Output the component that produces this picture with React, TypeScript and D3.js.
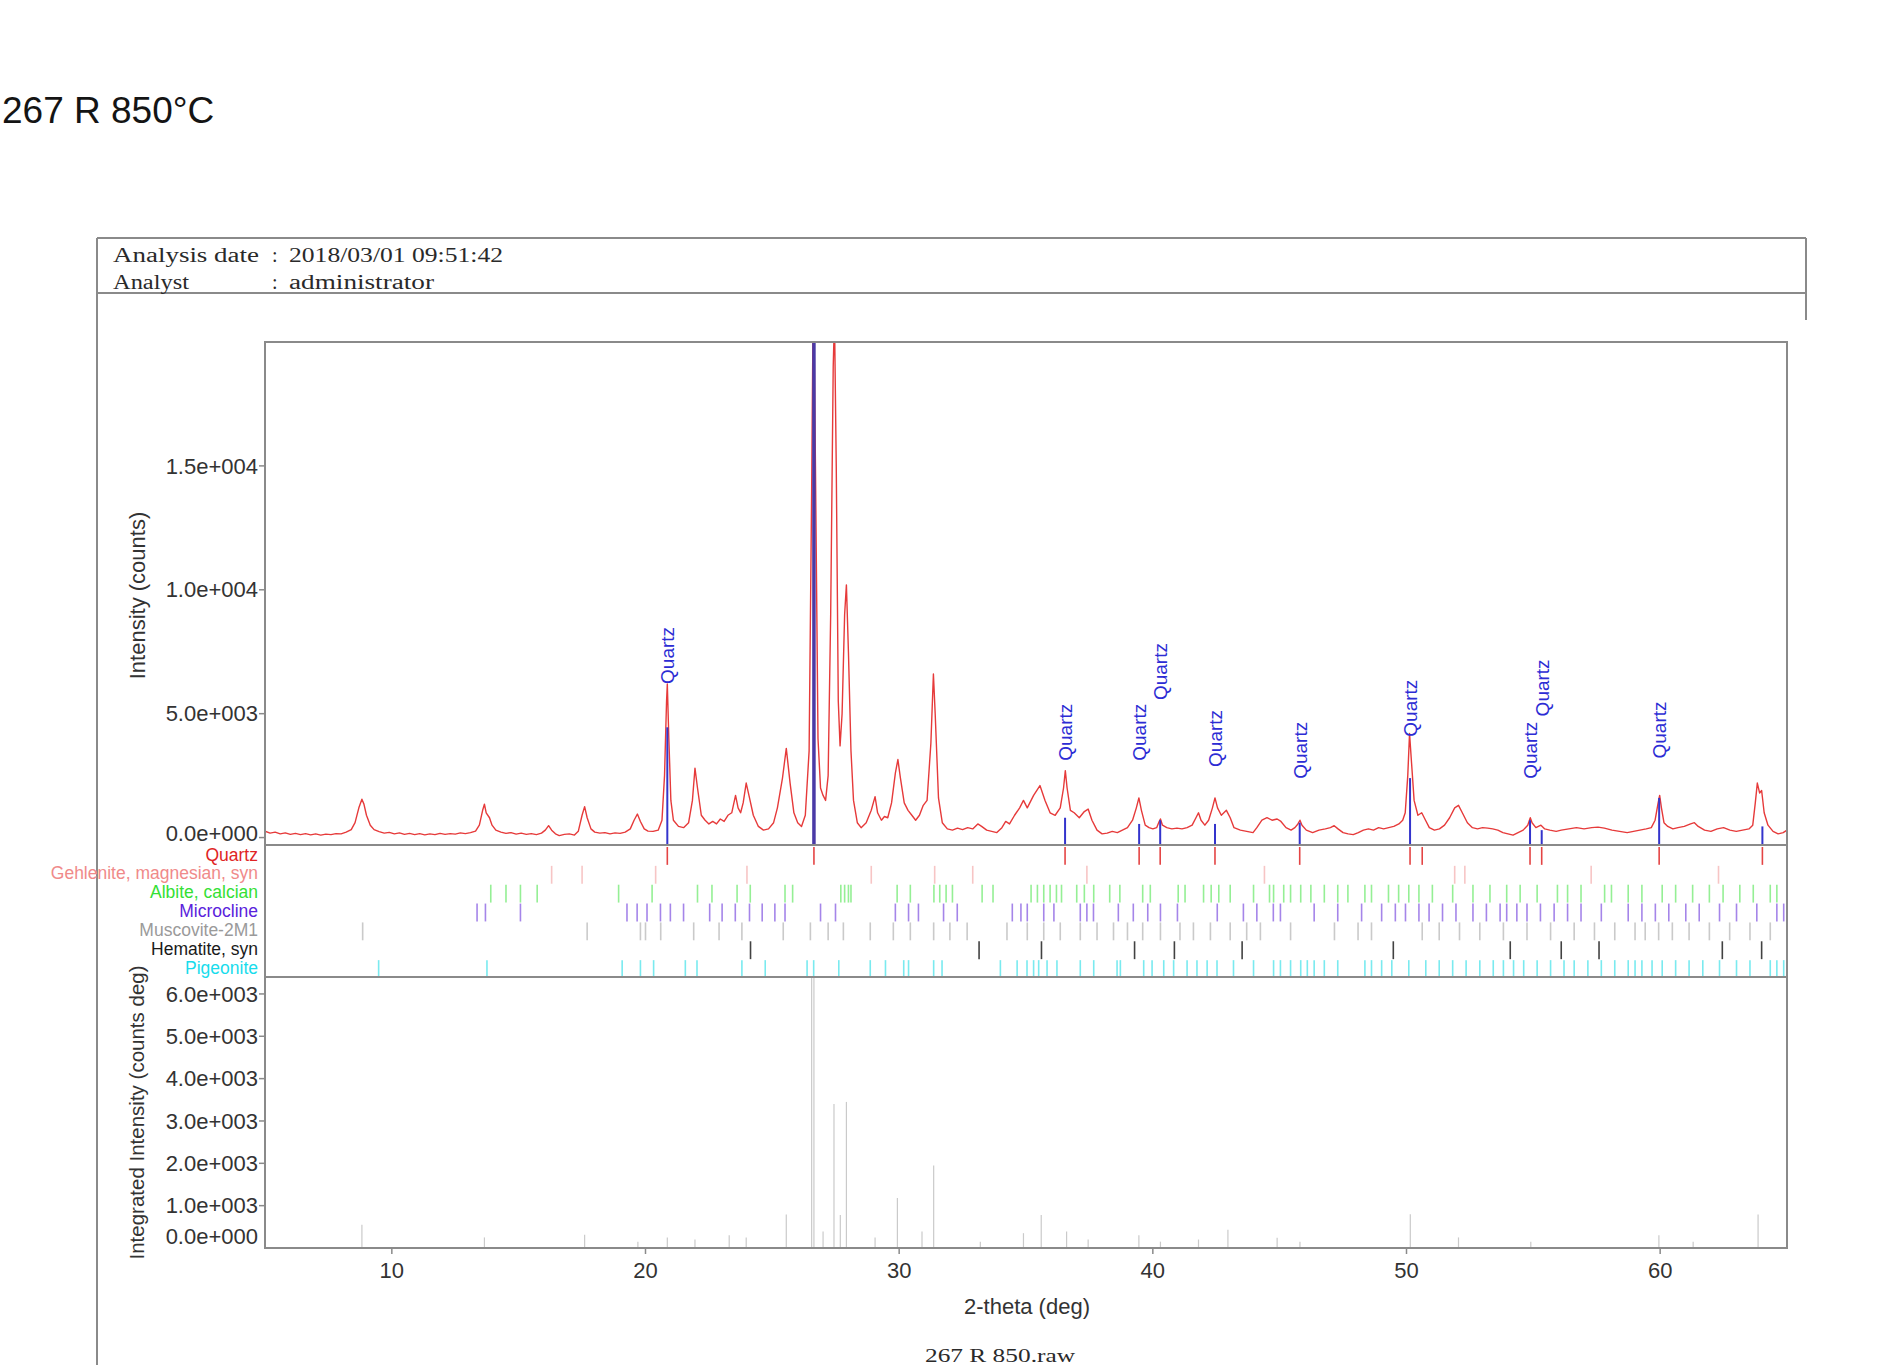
import React from "react";
import * as d3 from "d3";

const TRACE: [number, number][] = [
  [5.0, 260], [5.2, 180], [5.4, 220], [5.6, 150], [5.8, 190], [6.0, 130], [6.2, 170], [6.4, 120],
  [6.6, 160], [6.8, 110], [7.0, 150], [7.2, 100], [7.4, 140], [7.6, 120], [7.8, 160], [8.0, 150],
  [8.2, 220], [8.4, 320], [8.55, 600], [8.7, 1200], [8.82, 1550], [8.9, 1350], [9.0, 900], [9.15, 500],
  [9.3, 320], [9.5, 240], [9.7, 180], [9.9, 210], [10.1, 150], [10.3, 190], [10.5, 130], [10.7, 170],
  [10.9, 120], [11.1, 160], [11.3, 110], [11.5, 150], [11.7, 120], [11.9, 170], [12.1, 130], [12.3, 160],
  [12.5, 140], [12.7, 190], [12.9, 160], [13.1, 200], [13.3, 260], [13.45, 500], [13.58, 1100], [13.65, 1350],
  [13.72, 1000], [13.85, 800], [13.95, 500], [14.1, 300], [14.3, 220], [14.5, 170], [14.7, 200], [14.9, 140],
  [15.1, 180], [15.3, 130], [15.5, 160], [15.7, 120], [15.9, 180], [16.05, 300], [16.18, 480], [16.3, 300],
  [16.45, 150], [16.6, 80], [16.8, 130], [17.0, 150], [17.2, 100], [17.35, 250], [17.5, 900], [17.6, 1250],
  [17.7, 800], [17.85, 350], [18.0, 220], [18.2, 180], [18.4, 200], [18.6, 150], [18.8, 190], [19.0, 170],
  [19.2, 220], [19.4, 350], [19.55, 700], [19.68, 950], [19.8, 650], [19.95, 350], [20.1, 260], [20.3, 250],
  [20.5, 300], [20.65, 700], [20.75, 2500], [20.83, 5500], [20.86, 6200], [20.92, 4000], [21.0, 1500], [21.1, 700],
  [21.3, 450], [21.5, 400], [21.7, 600], [21.85, 1500], [21.95, 2800], [22.05, 2000], [22.2, 900], [22.35, 700],
  [22.5, 550], [22.65, 650], [22.8, 550], [22.95, 750], [23.1, 650], [23.25, 900], [23.4, 1000], [23.55, 1700],
  [23.65, 1200], [23.75, 1000], [23.85, 1400], [23.97, 2200], [24.1, 1600], [24.25, 900], [24.45, 450], [24.65, 300],
  [24.85, 350], [25.05, 600], [25.2, 1200], [25.4, 2400], [25.55, 3600], [25.7, 2200], [25.85, 1000], [26.0, 600],
  [26.15, 450], [26.3, 900], [26.45, 3500], [26.55, 14000], [26.62, 23000], [26.7, 15000], [26.8, 4000], [26.9, 2000],
  [27.0, 1700], [27.1, 1500], [27.2, 2500], [27.3, 9000], [27.4, 19000], [27.45, 21000], [27.52, 15000], [27.6, 5500],
  [27.67, 3700], [27.75, 5000], [27.85, 9000], [27.92, 10200], [28.0, 7500], [28.1, 3500], [28.2, 1500], [28.35, 600],
  [28.5, 400], [28.7, 600], [28.9, 1100], [29.05, 1650], [29.15, 1000], [29.3, 700], [29.42, 850], [29.55, 800],
  [29.7, 1400], [29.85, 2600], [29.95, 3150], [30.05, 2400], [30.2, 1400], [30.35, 1100], [30.5, 900], [30.65, 700],
  [30.8, 900], [30.95, 1300], [31.1, 1500], [31.25, 3800], [31.35, 6600], [31.42, 5000], [31.55, 1600], [31.7, 600],
  [31.9, 350], [32.1, 300], [32.3, 380], [32.5, 320], [32.7, 400], [32.9, 350], [33.1, 550], [33.25, 450],
  [33.45, 300], [33.65, 250], [33.85, 200], [34.05, 400], [34.2, 650], [34.35, 550], [34.55, 900], [34.75, 1200],
  [34.9, 1500], [35.05, 1200], [35.3, 1700], [35.55, 2100], [35.75, 1500], [35.95, 1000], [36.15, 900], [36.35, 1200],
  [36.48, 2000], [36.55, 2700], [36.62, 2000], [36.75, 1100], [36.9, 1000], [37.1, 800], [37.3, 1050], [37.45, 1150],
  [37.6, 700], [37.8, 300], [38.0, 150], [38.2, 180], [38.4, 250], [38.6, 200], [38.8, 300], [39.0, 400],
  [39.2, 700], [39.35, 1200], [39.45, 1600], [39.55, 1100], [39.7, 500], [39.85, 400], [40.0, 350], [40.15, 400],
  [40.25, 650], [40.3, 750], [40.38, 500], [40.55, 400], [40.75, 350], [40.95, 380], [41.15, 350], [41.35, 400],
  [41.55, 500], [41.7, 800], [41.8, 1000], [41.9, 700], [42.05, 500], [42.2, 700], [42.35, 1200], [42.45, 1600],
  [42.55, 1200], [42.7, 900], [42.9, 1100], [43.05, 800], [43.2, 400], [43.45, 300], [43.7, 250], [43.95, 200],
  [44.1, 400], [44.3, 700], [44.5, 800], [44.7, 700], [44.9, 750], [45.05, 650], [45.25, 400], [45.45, 300],
  [45.6, 400], [45.72, 550], [45.8, 700], [45.88, 500], [46.05, 300], [46.3, 200], [46.55, 300], [46.8, 350],
  [47.0, 400], [47.15, 480], [47.3, 350], [47.5, 200], [47.7, 150], [47.9, 120], [48.1, 200], [48.3, 300],
  [48.5, 350], [48.7, 300], [48.9, 400], [49.1, 350], [49.3, 400], [49.5, 450], [49.7, 550], [49.85, 700],
  [49.95, 1000], [50.05, 2500], [50.12, 4200], [50.2, 3000], [50.3, 1500], [50.45, 900], [50.6, 1000], [50.75, 700],
  [50.9, 400], [51.1, 300], [51.3, 350], [51.5, 500], [51.7, 800], [51.9, 1200], [52.05, 1300], [52.2, 1000],
  [52.4, 600], [52.6, 400], [52.8, 350], [53.0, 400], [53.2, 380], [53.4, 350], [53.6, 300], [53.8, 200],
  [54.0, 150], [54.2, 100], [54.4, 200], [54.6, 300], [54.78, 500], [54.88, 800], [54.95, 600], [55.1, 400],
  [55.3, 500], [55.45, 350], [55.65, 300], [55.9, 250], [56.1, 300], [56.4, 350], [56.7, 400], [57.0, 350],
  [57.3, 400], [57.55, 420], [57.8, 380], [58.1, 300], [58.4, 250], [58.7, 200], [58.95, 250], [59.2, 300],
  [59.45, 350], [59.65, 400], [59.8, 700], [59.92, 1400], [59.98, 1700], [60.05, 1200], [60.15, 600], [60.3, 450],
  [60.5, 350], [60.7, 400], [60.95, 450], [61.2, 550], [61.35, 600], [61.5, 450], [61.75, 300], [62.0, 250],
  [62.25, 350], [62.5, 400], [62.75, 300], [63.0, 250], [63.25, 300], [63.5, 350], [63.65, 500], [63.75, 1400],
  [63.83, 2200], [63.92, 1800], [64.0, 1900], [64.1, 1000], [64.25, 500], [64.45, 250], [64.65, 150], [64.85, 200],
  [65.0, 300],
];

// Quartz reference sticks in the pattern panel (deg, counts)
const QUARTZ_STICKS: [number, number][] = [
  [20.86, 4450], [26.64, 22000], [36.54, 800], [39.46, 550], [40.29, 700], [42.45, 550],
  [45.79, 600], [50.14, 2400], [54.87, 700], [55.33, 300], [59.96, 1600], [64.03, 450],
];
// "Quartz" annotations: (deg, counts where the label starts)
const QUARTZ_LABELS: [number, number][] = [
  [20.86, 6200], [36.54, 3100], [39.46, 3100], [40.29, 5550], [42.45, 2850],
  [45.79, 2370], [50.14, 4070], [54.87, 2370], [55.33, 4890], [59.96, 3190],
];

// Phase rows under the pattern
const PHASE_NAMES = [
  "Quartz", "Gehlenite, magnesian, syn", "Albite, calcian", "Microcline",
  "Muscovite-2M1", "Hematite, syn", "Pigeonite",
];
const PHASE_PEAKS: number[][] = [
  [20.86, 26.64, 36.54, 39.46, 40.29, 42.45, 45.79, 50.14, 50.62, 54.87, 55.33, 59.96, 64.03],
  [16.3, 17.5, 20.4, 24.0, 28.9, 31.4, 32.9, 37.4, 44.4, 51.9, 52.3, 57.28, 62.3],
  [13.9, 14.5, 15.07, 15.73, 18.94, 20.26, 22.05, 22.62, 23.61, 24.13, 25.5, 25.8, 27.7, 27.85, 28.0, 28.1,
    29.92, 30.44, 31.37, 31.6, 31.85, 32.1, 33.27, 33.7, 35.2, 35.45, 35.7, 35.95, 36.2, 36.4, 37.0, 37.3,
    37.67, 38.3, 38.7, 39.6, 39.9, 41.0, 41.27, 42.0, 42.3, 42.6, 43.05, 43.97, 44.6, 44.76, 45.16, 45.43,
    45.83, 46.23, 46.76, 47.29, 47.69, 48.36, 48.62, 49.29, 49.69, 50.09, 50.49, 51.02, 51.82, 52.62, 53.29,
    53.95, 54.48, 55.15, 55.95, 56.35, 56.88, 57.81, 58.08, 58.74, 59.28, 60.08, 60.61, 61.28, 61.94, 62.48,
    63.14, 63.67, 64.34, 64.6],
  [13.36, 13.69, 15.07, 19.27, 19.67, 20.06, 20.59, 20.98, 21.5, 22.53, 23.02, 23.54, 24.1, 24.6, 25.1, 25.5,
    26.9, 27.49, 29.85, 30.37, 30.76, 31.75, 32.29, 34.46, 34.8, 35.05, 35.7, 36.1, 37.14, 37.4, 37.66, 38.64,
    39.23, 39.8, 40.3, 40.97, 42.54, 43.57, 44.1, 44.75, 45.03, 46.36, 47.29, 48.23, 49.02, 49.56, 49.96,
    50.49, 50.89, 51.42, 51.95, 52.62, 53.15, 53.69, 53.95, 54.35, 54.75, 55.28, 55.82, 56.35, 56.88, 57.68,
    58.74, 59.28, 59.81, 60.34, 61.01, 61.54, 62.34, 63.01, 63.81, 64.6, 64.87],
  [8.85, 17.7, 19.8, 20.0, 20.6, 21.9, 22.9, 23.8, 25.43, 26.5, 27.2, 27.8, 28.86, 29.77, 30.44, 31.36,
    32.0, 32.68, 34.25, 35.05, 35.7, 36.35, 37.14, 37.8, 38.45, 39.0, 39.6, 40.3, 41.07, 41.6, 42.27, 43.05,
    43.7, 44.24, 45.43, 47.16, 48.09, 48.62, 50.62, 51.29, 52.09, 52.89, 53.82, 54.75, 55.68, 56.61, 57.41,
    58.21, 59.01, 59.41, 59.94, 60.48, 61.14, 61.94, 62.74, 63.54, 64.34],
  [24.14, 33.15, 35.61, 39.28, 40.85, 43.52, 49.48, 54.09, 56.1, 57.59, 62.45, 64.0],
  [9.48, 13.75, 19.08, 19.8, 20.32, 21.57, 22.03, 23.8, 24.72, 26.37, 26.63, 27.62, 28.86, 29.46, 30.18,
    30.37, 31.36, 31.69, 33.99, 34.65, 35.04, 35.3, 35.5, 35.83, 36.22, 37.14, 37.67, 38.59, 38.72, 39.64,
    39.97, 40.43, 40.82, 41.35, 41.74, 42.14, 42.53, 43.18, 43.97, 44.76, 45.03, 45.43, 45.83, 46.09, 46.36,
    46.76, 47.29, 48.36, 48.62, 49.02, 49.42, 50.09, 50.76, 51.29, 51.82, 52.35, 52.89, 53.42, 53.82, 54.22,
    54.62, 55.15, 55.68, 56.21, 56.61, 57.15, 57.68, 58.21, 58.74, 59.01, 59.28, 59.68, 60.08, 60.61, 61.14,
    61.68, 62.34, 63.01, 63.54, 64.34, 64.6, 64.87],
];
const PHASE_COLORS = ["#e02424", "#f3a0a0", "#4fe64f", "#6a35dc", "#a8a8a8", "#222222", "#22dde6"];
const PHASE_TEXT = ["#e02424", "#f08a8a", "#34e034", "#5a22dc", "#9a9a9a", "#1a1a1a", "#18dcec"];

// Integrated intensity sticks (deg, counts deg)
const INTEGRATED: [number, number][] = [
  [8.82, 550], [13.65, 250], [17.6, 310], [19.7, 150], [20.86, 250], [21.95, 200], [23.3, 300],
  [23.97, 250], [25.55, 790], [26.55, 6600], [26.64, 6800], [27.0, 390], [27.43, 3400], [27.68, 780],
  [27.92, 3450], [29.05, 250], [29.93, 1180], [30.9, 390], [31.36, 1950], [33.2, 150], [34.9, 350],
  [35.6, 780], [36.6, 390], [37.45, 200], [39.45, 300], [40.3, 150], [41.8, 200], [42.96, 430],
  [44.9, 240], [45.8, 150], [50.15, 800], [52.05, 250], [54.9, 150], [59.95, 300], [61.3, 150],
  [63.86, 790],
];

const MAIN_TICKS = [0, 5000, 10000, 15000];

const L = { left: 265, right: 1787, top: 342, mainBottom: 845, phaseBottom: 977, bottom: 1248 };
const SANS = "'Liberation Sans', Arial, sans-serif";
const SERIF = "'Liberation Serif', 'DejaVu Serif', serif";
const FRAME = "#8a8a8a";

const fmtSci = (v: number) => {
  if (v === 0) return "0.0e+000";
  const e = Math.floor(Math.log10(v));
  return `${(v / Math.pow(10, e)).toFixed(1)}e+${String(e).padStart(3, "0")}`;
};

const App: React.FC = () => {
  const x = d3.scaleLinear().domain([5, 65]).range([L.left, L.right]);
  const y = d3.scaleLinear().domain([-300, 20000]).range([L.mainBottom, L.top]);
  const yI = d3.scaleLinear().domain([0, 6400]).range([L.bottom, L.phaseBottom]);
  const rowH = (L.phaseBottom - L.mainBottom) / PHASE_NAMES.length;

  const tracePath = d3.line<[number, number]>().x(d => x(d[0])).y(d => y(d[1]))(TRACE) ?? "";

  return (
    <svg width={1900} height={1365} style={{ position: "absolute", left: 0, top: 0, background: "#fff" }}>
      <defs>
        <clipPath id="mainClip">
          <rect x={L.left} y={L.top} width={L.right - L.left} height={L.mainBottom - L.top} />
        </clipPath>
        <clipPath id="intClip">
          <rect x={L.left} y={L.phaseBottom} width={L.right - L.left} height={L.bottom - L.phaseBottom} />
        </clipPath>
      </defs>

      {/* page title */}
      <text x={2} y={123} fontFamily={SANS} fontSize={37} fill="#141414">267 R 850°C</text>

      {/* report frame + header */}
      <g stroke={FRAME} strokeWidth={2} fill="none">
        <line x1={97} x2={1806} y1={238} y2={238} />
        <line x1={97} x2={1806} y1={293} y2={293} />
        <line x1={1806} x2={1806} y1={238} y2={320} />
        <line x1={97} x2={97} y1={238} y2={1365} />
      </g>
      <g fontFamily={SERIF} fontSize={20} fill="#2a2a2a">
        <text x={113} y={262} textLength={146} lengthAdjust="spacingAndGlyphs">Analysis date</text>
        <text x={272} y={262}>:</text>
        <text x={289} y={262} textLength={214} lengthAdjust="spacingAndGlyphs">2018/03/01 09:51:42</text>
        <text x={113} y={289} textLength={76} lengthAdjust="spacingAndGlyphs">Analyst</text>
        <text x={272} y={289}>:</text>
        <text x={289} y={289} textLength={145} lengthAdjust="spacingAndGlyphs">administrator</text>
      </g>

      {/* pattern panel */}
      <g clipPath="url(#mainClip)">
        <path d={tracePath} fill="none" stroke="#e63a3a" strokeWidth={1.4} strokeLinejoin="round" />
        {QUARTZ_STICKS.map(([d, v]) => (
          <line key={d} x1={x(d)} x2={x(d)} y1={L.mainBottom} y2={y(v)}
            stroke={v > 20000 ? "#4a3aa6" : "#3434cc"} strokeWidth={v > 20000 ? 3.5 : 2} />
        ))}
      </g>
      {QUARTZ_LABELS.map(([d, v]) => (
        <text key={d} transform={`translate(${x(d)},${y(v)}) rotate(-90)`} dy="0.36em"
          fontFamily={SANS} fontSize={19} fill="#2c2cd4">Quartz</text>
      ))}

      {/* phase rows */}
      {PHASE_NAMES.map((name, i) => {
        const top = L.mainBottom + i * rowH;
        return (
          <g key={name}>
            {PHASE_PEAKS[i].map(d => (
              <line key={d} x1={x(d)} x2={x(d)} y1={top + 2} y2={top + rowH + 1}
                stroke={PHASE_COLORS[i]} strokeWidth={1.6} opacity={i === 0 || i === 5 ? 0.85 : 0.6} />
            ))}
            <text x={258} y={top + rowH / 2} dy="0.35em" textAnchor="end"
              fontFamily={SANS} fontSize={17.5} fill={PHASE_TEXT[i]}>{name}</text>
          </g>
        );
      })}

      {/* integrated intensity panel */}
      <g clipPath="url(#intClip)">
        {INTEGRATED.map(([d, v]) => (
          <line key={d} x1={x(d)} x2={x(d)} y1={yI(0)} y2={yI(v)} stroke="#cacaca" strokeWidth={1.2} />
        ))}
      </g>

      {/* frames */}
      <g stroke={FRAME} strokeWidth={2} fill="none">
        <rect x={L.left} y={L.top} width={L.right - L.left} height={L.bottom - L.top} />
        <line x1={L.left} x2={L.right} y1={L.mainBottom} y2={L.mainBottom} />
        <line x1={L.left} x2={L.right} y1={L.phaseBottom} y2={L.phaseBottom} />
      </g>

      {/* y axis: intensity */}
      <g fontFamily={SANS} fontSize={22} fill="#333">
        {MAIN_TICKS.map(t => (
          <g key={t}>
            <line x1={L.left - 6} x2={L.left} y1={y(t)} y2={y(t)} stroke={FRAME} strokeWidth={1.5} />
            <text x={258} y={y(t) - (t === 0 ? 4 : 0)} dy="0.35em" textAnchor="end">{fmtSci(t)}</text>
          </g>
        ))}
        <text transform={`translate(137,${(L.top + L.mainBottom) / 2 + 2}) rotate(-90)`} textAnchor="middle" dy="0.35em">
          Intensity (counts)
        </text>
      </g>

      {/* y axis: integrated */}
      <g fontFamily={SANS} fontSize={22} fill="#333">
        {yI.ticks(7).map(t => (
          <g key={t}>
            {t > 0 && <line x1={L.left - 6} x2={L.left} y1={yI(t)} y2={yI(t)} stroke={FRAME} strokeWidth={1.5} />}
            <text x={258} y={yI(t) - (t === 0 ? 12 : 0)} dy="0.35em" textAnchor="end">{fmtSci(t)}</text>
          </g>
        ))}
        <text transform={`translate(137,${(L.phaseBottom + L.bottom) / 2}) rotate(-90)`} textAnchor="middle"
          dy="0.35em" fontSize={20.5}>
          Integrated Intensity (counts deg)
        </text>
      </g>

      {/* x axis */}
      <g fontFamily={SANS} fontSize={22} fill="#333">
        {x.ticks(6).map(t => (
          <g key={t}>
            <line x1={x(t)} x2={x(t)} y1={L.bottom} y2={L.bottom + 6} stroke={FRAME} strokeWidth={1.5} />
            <text x={x(t)} y={L.bottom + 22} dy="0.35em" textAnchor="middle">{t}</text>
          </g>
        ))}
        <text x={1027} y={1306} dy="0.35em" textAnchor="middle">2-theta (deg)</text>
      </g>
      <text x={1000} y={1362} textAnchor="middle" fontFamily={SERIF} fontSize={18} fill="#2a2a2a"
        textLength={150} lengthAdjust="spacingAndGlyphs">267 R 850.raw</text>
    </svg>
  );
};

export default App;
